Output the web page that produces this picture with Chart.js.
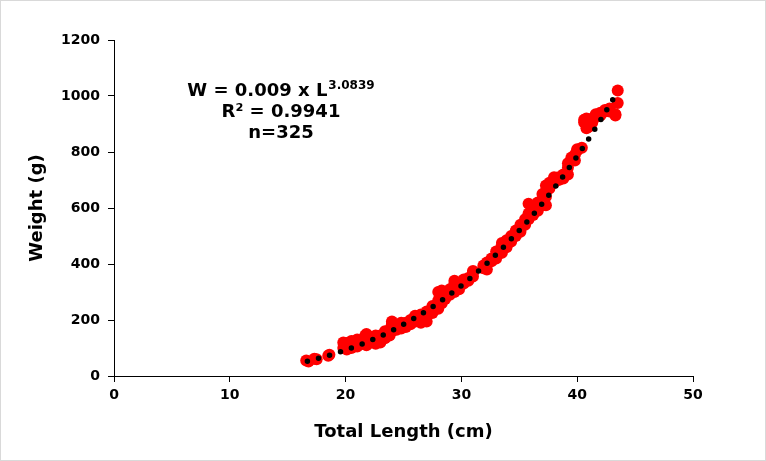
<!DOCTYPE html>
<html>
<head>
    <title>Length-Weight Relationship</title>
    <script src="https://cdnjs.cloudflare.com/ajax/libs/Chart.js/4.4.1/chart.umd.min.js"></script>
    <style>
        body {
            margin: 0;
            background: #fff;
        }
        #lwChart {
            display: block;
        }
    </style>
</head>
<body>
    <canvas id="lwChart" width="766" height="461"></canvas>

    <script>
        // observed fish: total length (cm) and weight (g)
        const fishLength = [
            16.6, 16.8, 17.3, 17.5, 18.5, 18.6,
            19.8, 19.8, 20.1, 20.1, 20.1, 20.5, 20.5, 20.5, 21.0, 21.0, 21.0, 21.5, 21.5, 21.7,
            21.8, 21.8, 22.2, 22.2, 22.2, 22.6, 22.6, 22.6, 23.0, 23.0, 23.0, 23.4, 23.4, 23.4,
            23.8, 23.8, 23.8, 24.0, 24.0, 24.0, 24.4, 24.4, 24.8, 24.8, 24.8, 25.2, 25.2, 25.2,
            25.6, 25.6, 26.0, 26.0, 26.0, 26.5, 26.5, 26.5, 27.0, 27.0, 27.0, 27.5, 27.5, 27.5,
            28.0, 28.0, 28.0, 28.3, 28.3, 28.3, 28.6, 28.6, 29.0, 29.0, 29.4, 29.4, 29.4, 29.8,
            29.8, 30.2, 30.2, 30.6, 30.6, 31.0, 31.0, 31.0,
            31.9, 31.9, 32.2, 32.2, 32.2, 32.6, 32.6, 33.0, 33.0, 33.0, 33.4, 33.4,
            33.5, 33.5, 33.5, 33.9, 33.9, 33.9, 34.3, 34.3, 34.3, 34.7, 34.7, 34.7, 35.1, 35.1,
            35.1, 35.5, 35.5, 35.5, 35.8, 35.8, 35.8, 36.2, 36.2, 36.2, 36.6, 36.6, 36.6, 37.0,
            37.0, 37.0, 37.3, 37.3, 37.3, 37.3, 37.6, 37.6, 38.0, 38.0, 38.0, 38.4, 38.4, 38.8,
            38.8, 39.2, 39.2, 39.2, 39.5, 39.5, 39.8, 39.8,
            40.0, 40.0, 40.4, 40.6, 40.6, 40.8, 40.8, 40.8, 41.0, 41.0, 41.3, 41.3, 41.6, 41.6,
            42.0, 42.0, 42.4, 42.4, 42.8, 42.8, 43.3, 43.3, 43.5, 43.5
        ];
        const fishWeight = [
            55, 52, 62, 60, 72, 76,
            120, 100, 118, 95, 108, 112, 100, 125, 105, 120, 130, 115, 125, 145,
            150, 110, 120, 130, 140, 125, 115, 145, 130, 145, 120, 135, 150, 160,
            145, 165, 150, 195, 185, 160, 165, 175, 170, 185, 190, 175, 190, 180,
            185, 200, 205, 215, 195, 200, 220, 190, 195, 230, 215, 225, 240, 250,
            240, 300, 270, 305, 285, 260, 300, 275, 290, 310, 340, 330, 300, 320,
            310, 330, 345, 340, 350, 370, 375, 355,
            385, 395, 400, 380, 405, 410, 420, 430, 420, 445, 440, 455,
            460, 440, 475, 470, 485, 460, 490, 500, 480, 510, 520, 500, 525, 540,
            515, 545, 560, 540, 615, 580, 560, 590, 605, 575, 600, 620, 590, 630,
            610, 650, 680, 660, 640, 610, 690, 670, 700, 710, 690, 710, 700, 720,
            705, 760, 745, 720, 780, 770, 790, 770,
            805, 810, 815, 915, 905, 885, 900, 920, 890, 910, 920, 905, 925, 935,
            930, 940, 945, 950, 955, 945, 935, 930, 975, 1020
        ];

        // power trendline
        const trendLength = [16.7, 18, 20, 22, 24, 26, 28, 30, 32, 34, 36, 38, 40, 42, 43.5];
        const trendWeight = [53, 67, 93, 124, 162, 208, 261, 323, 394, 476, 567, 670, 785, 913, 1017];

        const xTicks = [0, 10, 20, 30, 40, 50];
        const yTicks = [0, 200, 400, 600, 800, 1000, 1200];

        const equationMain = 'W = 0.009 x L';
        const equationExp = '3.0839';
        const rSquaredText = 'R² = 0.9941';
        const countText = 'n=325';

        const fontFamily = '"DejaVu Sans", Verdana, sans-serif';

        const toPoints = (xs, ys) => xs.map((x, i) => ({ x: x, y: ys[i] }));

        const frameAndEquation = {
            id: 'frameAndEquation',
            beforeDraw(chart) {
                const ctx = chart.ctx;
                ctx.save();
                ctx.fillStyle = '#fff';
                ctx.fillRect(0, 0, chart.width, chart.height);
                ctx.strokeStyle = '#d9d9d9';
                ctx.lineWidth = 1;
                ctx.strokeRect(0.5, 0.5, chart.width - 1, chart.height - 1);
                ctx.restore();
            },
            afterDraw(chart) {
                const ctx = chart.ctx;
                const cx = 281;
                ctx.save();
                ctx.fillStyle = '#000';
                ctx.textBaseline = 'alphabetic';

                ctx.font = 'bold 18px ' + fontFamily;
                const w1 = ctx.measureText(equationMain).width;
                ctx.font = 'bold 12px ' + fontFamily;
                const w2 = ctx.measureText(equationExp).width;
                const start = cx - (w1 + w2 + 1) / 2;

                ctx.textAlign = 'left';
                ctx.font = 'bold 18px ' + fontFamily;
                ctx.fillText(equationMain, start, 96);
                ctx.font = 'bold 12px ' + fontFamily;
                ctx.fillText(equationExp, start + w1 + 1, 89);

                ctx.textAlign = 'center';
                ctx.font = 'bold 18px ' + fontFamily;
                ctx.fillText(rSquaredText, cx, 117);
                ctx.fillText(countText, cx, 138);
                ctx.restore();
            }
        };

        const axisCommon = {
            grid: {
                drawOnChartArea: false,
                drawTicks: true,
                tickLength: 6,
                tickColor: '#000',
                tickWidth: 1
            },
            border: {
                display: true,
                color: '#000',
                width: 1
            }
        };

        new Chart(document.getElementById('lwChart'), {
            type: 'scatter',
            data: {
                datasets: [
                    {
                        label: 'Power fit',
                        data: toPoints(trendLength, trendWeight),
                        showLine: true,
                        borderColor: '#000',
                        borderWidth: 5.5,
                        borderDash: [0, 11.5],
                        borderCapStyle: 'round',
                        cubicInterpolationMode: 'monotone',
                        pointRadius: 0,
                        pointHoverRadius: 0,
                        fill: false
                    },
                    {
                        label: 'Observed',
                        data: toPoints(fishLength, fishWeight),
                        backgroundColor: '#ff0000',
                        borderWidth: 0,
                        pointRadius: 6,
                        pointHoverRadius: 6
                    }
                ]
            },
            options: {
                responsive: false,
                animation: false,
                devicePixelRatio: 1,
                layout: {
                    padding: { top: 40, right: 73, bottom: 0, left: 0 }
                },
                plugins: {
                    legend: { display: false },
                    tooltip: { enabled: false }
                },
                scales: {
                    x: {
                        ...axisCommon,
                        type: 'linear',
                        min: xTicks[0],
                        max: xTicks[xTicks.length - 1],
                        afterBuildTicks(scale) {
                            scale.ticks = xTicks.map(v => ({ value: v }));
                        },
                        afterFit(scale) {
                            scale.height = 85;
                        },
                        ticks: {
                            color: '#000',
                            padding: 5,
                            maxRotation: 0,
                            callback: v => String(v),
                            font: { family: fontFamily, size: 14, weight: 'bold' }
                        },
                        title: {
                            display: true,
                            text: 'Total Length (cm)',
                            color: '#000',
                            padding: { top: 0, bottom: 18 },
                            font: { family: fontFamily, size: 18, weight: 'bold' }
                        }
                    },
                    y: {
                        ...axisCommon,
                        type: 'linear',
                        min: yTicks[0],
                        max: yTicks[yTicks.length - 1],
                        afterBuildTicks(scale) {
                            scale.ticks = yTicks.map(v => ({ value: v }));
                        },
                        afterFit(scale) {
                            scale.width = 114;
                        },
                        ticks: {
                            color: '#000',
                            padding: 8,
                            callback: v => String(v),
                            font: { family: fontFamily, size: 14, weight: 'bold' }
                        },
                        title: {
                            display: true,
                            text: 'Weight (g)',
                            color: '#000',
                            padding: { top: 27, bottom: 0 },
                            font: { family: fontFamily, size: 18, weight: 'bold' }
                        }
                    }
                }
            },
            plugins: [frameAndEquation]
        });
    </script>
</body>
</html>
